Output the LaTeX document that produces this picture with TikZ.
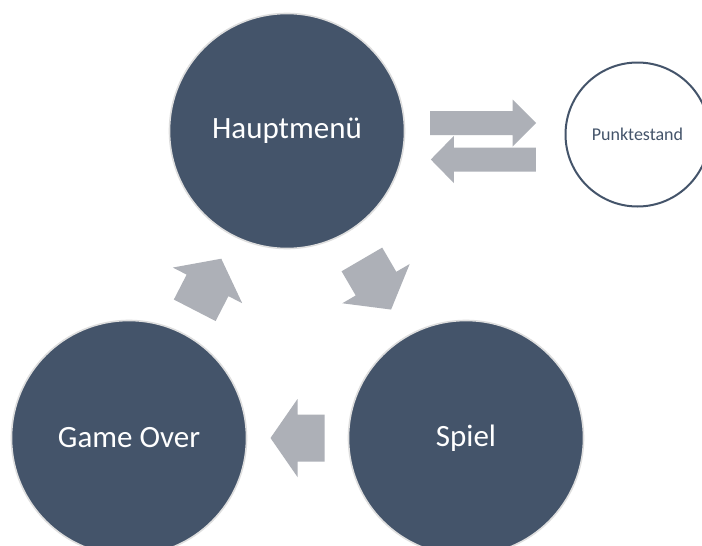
\documentclass[tikz,border=0pt]{standalone}
\usepackage{fontspec}
\setmainfont{Carlito}
\usetikzlibrary{calc}
\definecolor{darkfill}{HTML}{44546A}
\definecolor{arrowgray}{HTML}{ADB0B7}
\definecolor{rimgray}{HTML}{DEDEDE}
\tikzset{
  state/.style={circle, fill=darkfill, draw=rimgray, line width=1.6pt,
    minimum size=235pt, inner sep=0pt, text=white,
    font=\fontsize{31}{36}\selectfont},
  side/.style={circle, fill=white, draw=darkfill, line width=2pt,
    minimum size=144pt, inner sep=0pt, text=darkfill,
    font=\fontsize{18}{22}\selectfont},
  pics/blockarrow/.style n args={4}{code={
    \fill[arrowgray] ({-#1/2},{-#2/2}) -- ({#1/2-#4},{-#2/2}) -- ({#1/2-#4},{-#3/2})
      -- ({#1/2},0) -- ({#1/2-#4},{#3/2}) -- ({#1/2-#4},{#2/2}) -- ({-#1/2},{#2/2}) -- cycle;
  }}
}
\begin{document}
\begin{tikzpicture}[x=1pt,y=-1pt]
\useasboundingbox (0,0) rectangle (702,546);
\clip (0,0) rectangle (702,546);
\fill[white] (0,0) rectangle (702,546);
\node[state] (hm) at (287,131) {Hauptmenü};
\node[state] (sp) at (466,438) {Spiel};
\node[state] (go) at (129,438) {Game Over};
\node[side]  (pk) at (637.5,134.5) {Punktestand};
% cycle arrows
\path let \p1 = ($(sp)-(hm)$), \n1 = {atan2(\y1,\x1)} in
  ($(hm)!0.5!(sp)$) pic[rotate=\n1] {blockarrow={58}{47}{78}{30}};
\path let \p1 = ($(hm)-(go)$), \n1 = {atan2(\y1,\x1)} in
  ($(go)!0.5!(hm)$) pic[rotate=\n1] {blockarrow={58}{47}{78}{30}};
\path let \p1 = ($(go)-(sp)$), \n1 = {atan2(\y1,\x1)} in
  ($(sp)!0.5!(go)$) pic[rotate=\n1] {blockarrow={54}{47}{78}{27}};
% score arrows
\coordinate (ra) at (483,123);
\coordinate (la) at (483.3,159.5);
\path (ra) pic {blockarrow={106}{24}{47}{23.5}};
\path (la) pic[rotate=180] {blockarrow={105}{24}{47}{23}};
\end{tikzpicture}
\end{document}
